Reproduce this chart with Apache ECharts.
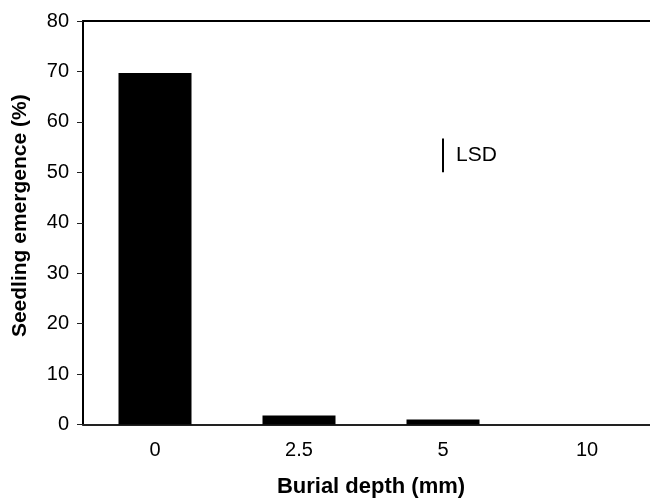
<!DOCTYPE html>
<html>
<head>
<meta charset="utf-8">
<script src="https://cdn.jsdelivr.net/npm/echarts@6/dist/echarts.min.js"></script>
<style>
  html, body { margin: 0; padding: 0; background: #fff; }
  #chart { width: 650px; height: 501px; }
</style>
</head>
<body>
<div id="chart"></div>
<script>
// Seedling emergence by burial depth
const depths = ['0', '2.5', '5', '10'];
const emergence = [69.7, 1.8, 1.0, 0];
const yTicks = [0, 10, 20, 30, 40, 50, 60, 70, 80];

// LSD bar: drawn at one category, from a lower to an upper value
const lsdCategory = '5';
const lsdRange = [50, 56.7];
const lsdText = 'LSD';

const FONT = 'Liberation Sans, Arial, Helvetica, sans-serif';

const chart = echarts.init(document.getElementById('chart'), null, { renderer: 'canvas' });

chart.setOption({
  backgroundColor: '#fff',
  animation: false,
  grid: {
    left: 83, top: 21, width: 576, height: 403.5,
    containLabel: false, outerBoundsMode: 'none'
  },
  xAxis: [{
    type: 'category',
    data: depths,
    position: 'bottom',
    name: 'Burial depth (mm)',
    nameLocation: 'middle',
    nameGap: 51,
    nameTextStyle: { fontFamily: FONT, fontSize: 22, fontWeight: 'bold', color: '#000' },
    axisLine: { lineStyle: { color: '#222', width: 2 } },
    axisTick: { alignWithLabel: true, length: 6, lineStyle: { color: '#222', width: 1 } },
    axisLabel: { fontFamily: FONT, fontSize: 20, color: '#000', margin: 16 },
    splitLine: { show: false }
  }, {
    type: 'category',
    data: depths,
    position: 'top',
    axisLine: { lineStyle: { color: '#000', width: 2 } },
    axisTick: { show: false },
    axisLabel: { show: false },
    splitLine: { show: false }
  }],
  yAxis: {
    type: 'value',
    min: yTicks[0],
    max: yTicks[yTicks.length - 1],
    interval: yTicks[1] - yTicks[0],
    name: 'Seedling emergence (%)',
    nameLocation: 'middle',
    nameGap: 52,
    nameTextStyle: {
      fontFamily: FONT, fontSize: 21, fontWeight: 'bold', color: '#000',
      padding: [0, 0, 0, 14]
    },
    axisLine: { show: true, lineStyle: { color: '#000', width: 2 } },
    axisTick: { show: true, length: 6, lineStyle: { color: '#222', width: 1 } },
    axisLabel: { fontFamily: FONT, fontSize: 20, color: '#000', margin: 14 },
    splitLine: { show: false }
  },
  series: [{
    type: 'bar',
    data: emergence,
    barWidth: 73,
    itemStyle: { color: '#000' }
  }, {
    type: 'custom',
    data: [[lsdCategory, lsdRange[0], lsdRange[1]]],
    encode: { x: 0, y: [1, 2] },
    renderItem: function (params, api) {
      const lo = api.coord([api.value(0), api.value(1)]);
      const hi = api.coord([api.value(0), api.value(2)]);
      return {
        type: 'group',
        children: [{
          type: 'line',
          shape: { x1: lo[0], y1: lo[1], x2: hi[0], y2: hi[1] },
          style: { stroke: '#000', lineWidth: 2 }
        }, {
          type: 'text',
          style: {
            x: lo[0] + 13,
            y: (lo[1] + hi[1]) / 2,
            text: lsdText,
            fill: '#000',
            font: '21px ' + FONT,
            textAlign: 'left',
            textVerticalAlign: 'middle'
          }
        }]
      };
    }
  }]
});
</script>
</body>
</html>
